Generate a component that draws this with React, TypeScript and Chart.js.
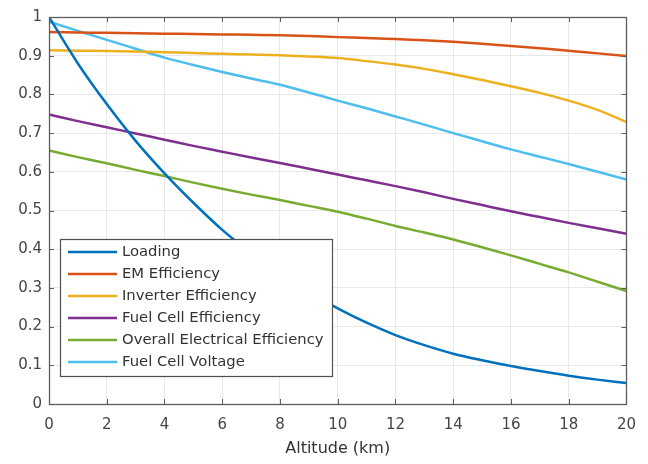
import React, { useEffect, useRef } from "react";
import { Chart, registerables } from "chart.js";

Chart.register(...registerables);

// ---- data ----
const altitudeKm = [0, 1, 2, 3, 4, 5, 6, 7, 8, 9, 10, 11, 12, 13, 14, 15, 16, 17, 18, 19, 20];

const loading = [1.0, 0.88, 0.775, 0.68, 0.596, 0.52, 0.45, 0.39, 0.335, 0.29, 0.247, 0.21, 0.178, 0.152, 0.13, 0.113, 0.098, 0.085, 0.073, 0.063, 0.054];
const emEfficiency = [0.961, 0.96, 0.959, 0.958, 0.957, 0.956, 0.955, 0.954, 0.953, 0.951, 0.948, 0.946, 0.943, 0.94, 0.936, 0.931, 0.925, 0.919, 0.913, 0.906, 0.899];
const inverterEfficiency = [0.914, 0.913, 0.912, 0.911, 0.909, 0.907, 0.905, 0.903, 0.901, 0.898, 0.894, 0.886, 0.877, 0.866, 0.852, 0.837, 0.821, 0.804, 0.784, 0.76, 0.729];
const fuelCellEfficiency = [0.748, 0.731, 0.715, 0.699, 0.683, 0.667, 0.652, 0.637, 0.623, 0.608, 0.593, 0.578, 0.563, 0.547, 0.53, 0.514, 0.498, 0.483, 0.468, 0.454, 0.44];
const overallElectricalEfficiency = [0.655, 0.638, 0.622, 0.605, 0.589, 0.572, 0.556, 0.541, 0.527, 0.512, 0.497, 0.479, 0.46, 0.443, 0.425, 0.405, 0.384, 0.362, 0.34, 0.316, 0.292];
const fuelCellVoltage = [0.988, 0.964, 0.941, 0.918, 0.895, 0.876, 0.858, 0.841, 0.825, 0.805, 0.784, 0.764, 0.743, 0.722, 0.7, 0.679, 0.658, 0.639, 0.62, 0.6, 0.58];

const seriesNames = [
  "Loading",
  "EM Efficiency",
  "Inverter Efficiency",
  "Fuel Cell Efficiency",
  "Overall Electrical Efficiency",
  "Fuel Cell Voltage",
];
const seriesValues = [loading, emEfficiency, inverterEfficiency, fuelCellEfficiency, overallElectricalEfficiency, fuelCellVoltage];
const seriesColors = ["#0072BD", "#D95319", "#EDB120", "#7E2F8E", "#77AC30", "#4DBEEE"];

const xTicks = [0, 2, 4, 6, 8, 10, 12, 14, 16, 18, 20];
const yTicks = [0, 0.1, 0.2, 0.3, 0.4, 0.5, 0.6, 0.7, 0.8, 0.9, 1];
const yTickLabels = ["0", "0.1", "0.2", "0.3", "0.4", "0.5", "0.6", "0.7", "0.8", "0.9", "1"];
const xAxisTitle = "Altitude (km)";

const FONT = "'DejaVu Sans', 'Liberation Sans', sans-serif";
const AXIS_COLOR = "#5c5c5c";
const TEXT_COLOR = "#454545";

const matlabAxesPlugin = {
  id: "matlabAxes",
  afterDatasetsDraw(chart: any) {
    const { ctx, chartArea: a, scales } = chart;
    const xs = scales.x;
    const ys = scales.y;
    ctx.save();
    // inward tick marks on all four sides
    ctx.strokeStyle = AXIS_COLOR;
    ctx.lineWidth = 1;
    ctx.beginPath();
    for (const t of xTicks) {
      const px = Math.round(xs.getPixelForValue(t)) + 0.5;
      ctx.moveTo(px, a.bottom);
      ctx.lineTo(px, a.bottom - 5);
      ctx.moveTo(px, a.top);
      ctx.lineTo(px, a.top + 5);
    }
    for (const t of yTicks) {
      const py = Math.round(ys.getPixelForValue(t)) + 0.5;
      ctx.moveTo(a.left, py);
      ctx.lineTo(a.left + 5, py);
      ctx.moveTo(a.right, py);
      ctx.lineTo(a.right - 5, py);
    }
    ctx.stroke();
    // box
    ctx.lineWidth = 1.3;
    ctx.strokeRect(Math.round(a.left) + 0.5, Math.round(a.top) + 0.5, Math.round(a.right - a.left), Math.round(a.bottom - a.top));

    // legend box (bottom-left inside the axes)
    const bx = a.left + 11;
    const by = a.bottom - 165;
    const bw = 272;
    const bh = 137;
    ctx.fillStyle = "#ffffff";
    ctx.fillRect(bx, by, bw, bh);
    ctx.strokeStyle = "#505050";
    ctx.lineWidth = 1.2;
    ctx.strokeRect(bx + 0.5, by + 0.5, bw, bh);
    ctx.font = `14.8px ${FONT}`;
    ctx.textBaseline = "middle";
    ctx.textAlign = "left";
    seriesNames.forEach((name, i) => {
      const cy = by + 13 + i * 22;
      ctx.strokeStyle = seriesColors[i];
      ctx.lineWidth = 2.5;
      ctx.beginPath();
      ctx.moveTo(bx + 8, cy);
      ctx.lineTo(bx + 57, cy);
      ctx.stroke();
      ctx.fillStyle = "#333333";
      ctx.fillText(name, bx + 62, cy);
    });
    ctx.restore();
  },
};

export default function App() {
  const canvasRef = useRef<HTMLCanvasElement | null>(null);

  useEffect(() => {
    document.body.style.margin = "0";
    const canvas = canvasRef.current;
    if (!canvas) return;
    const chart = new Chart(canvas, {
      type: "line",
      data: {
        datasets: seriesNames.map((name, i) => ({
          label: name,
          data: altitudeKm.map((x, j) => ({ x, y: seriesValues[i][j] })),
          borderColor: seriesColors[i],
          backgroundColor: seriesColors[i],
          borderWidth: 2.5,
          pointRadius: 0,
          cubicInterpolationMode: "monotone" as const,
          fill: false,
        })),
      },
      options: {
        responsive: false,
        animation: false,
        layout: { padding: { left: 0, right: 21, top: 17, bottom: 0 } },
        plugins: {
          legend: { display: false },
          tooltip: { enabled: false },
        },
        scales: {
          x: {
            type: "linear",
            min: 0,
            max: 20,
            afterBuildTicks: (scale: any) => {
              scale.ticks = xTicks.map((v) => ({ value: v }));
            },
            afterFit: (scale: any) => {
              scale.height = 60;
            },
            grid: { color: "#e8e8e8", lineWidth: 1, drawTicks: false },
            border: { display: false },
            ticks: {
              color: TEXT_COLOR,
              font: { family: FONT, size: 15 },
              padding: 12,
              maxRotation: 0,
              callback: (v: any) => String(v),
            },
            title: {
              display: true,
              text: xAxisTitle,
              color: "#333333",
              font: { family: FONT, size: 16 },
              padding: { top: 2, bottom: 6 },
            },
          },
          y: {
            type: "linear",
            min: 0,
            max: 1,
            afterBuildTicks: (scale: any) => {
              scale.ticks = yTicks.map((v) => ({ value: v }));
            },
            afterFit: (scale: any) => {
              scale.width = 49;
            },
            grid: { color: "#e8e8e8", lineWidth: 1, drawTicks: false },
            border: { display: false },
            ticks: {
              color: TEXT_COLOR,
              font: { family: FONT, size: 15 },
              padding: 7,
              callback: (v: any) => {
                const idx = yTicks.findIndex((t) => Math.abs(t - v) < 1e-9);
                return idx >= 0 ? yTickLabels[idx] : "";
              },
            },
          },
        },
      },
      plugins: [matlabAxesPlugin],
    });
    return () => chart.destroy();
  }, []);

  return (
    <div style={{ position: "absolute", left: 0, top: 0, width: 648, height: 464, background: "#ffffff" }}>
      <canvas ref={canvasRef} width={648} height={464} style={{ display: "block" }} />
    </div>
  );
}
